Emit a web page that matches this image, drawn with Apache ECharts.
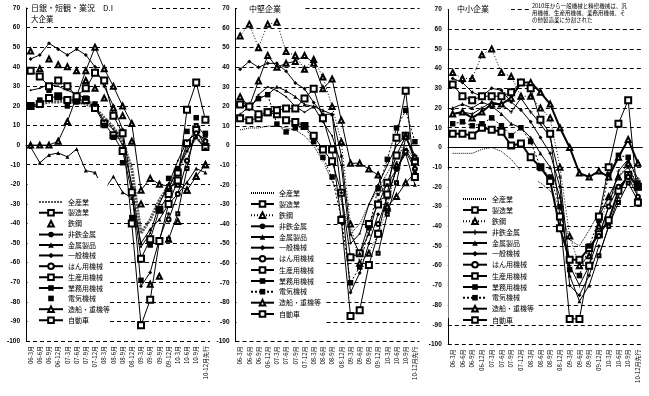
<!DOCTYPE html>
<html>
<head>
<meta charset="utf-8">
<script src="https://cdn.jsdelivr.net/npm/echarts@6/dist/echarts.min.js"></script>
<style>
  html, body { margin: 0; padding: 0; background: #fff; }
  #chart { width: 649px; height: 396px; }
</style>
</head>
<body>
<div id="chart"></div>
<script>
// ---------------------------------------------------
// Data (日銀短観 業況判断DI)
// ---------------------------------------------------
const categories = ["06-3月", "06-6月", "06-9月", "06-12月", "07-3月", "07-6月", "07-9月", "07-12月",
  "08-3月", "08-6月", "08-9月", "08-12月", "09-3月", "09-6月", "09-9月", "09-12月",
  "10-3月", "10-6月", "10-9月", "10-12月先行"];

const seriesNames = ["全産業", "製造業", "鉄鋼", "非鉄金属", "金属製品", "一般機械", "はん用機械",
  "生産用機械", "業務用機械", "電気機械", "造船・重機等", "自動車"];

const yTicks = { min: -100, max: 70, interval: 10 };

const N = null;

// 大企業
const largeAll        = [20, 21, 22, 22, 23, 22, 21, 19, 14, 9, 2, -12, -45, -38, -28, -21, -13, -2, 4, -1];
const largeMfg        = [20, 21, 24, 25, 23, 23, 23, 19, 11, 5, -3, -24, -58, -48, -33, -25, -14, 1, 8, -1];
const largeSteel      = [48, 39, 44, 41, 40, 38, 33, 29, 24, 19, 15, 2, -30, -71, -67, -48, -39, -23, -16, -10];
const largeNonferrous = [28, 29, 31, 30, 28, 26, 24, 20, 12, 8, 0, -20, -52, -45, -30, -20, -8, 2, 6, 3];
const largeMetalProd  = [-1, -9, -5, -4, -6, -2, -13, -14, -23, -16, -24, -27, -50, -43, -38, -30, -25, -19, -12, -14];
const largeGenMach    = [44, 46, 52, 49, 46, 49, 46, 40, 30, 20, 8, -22, -72, -65, -48, -35, N, N, N, N];
const largeGpMach     = [N, N, N, N, N, N, N, N, N, N, N, N, N, N, N, -38, -25, -8, 6, 2];
const largeProdMach   = [N, N, N, N, N, N, N, N, N, N, N, N, N, N, N, -48, -35, -12, 10, 5];
const largeBizMach    = [N, N, N, N, N, N, N, N, N, N, N, N, N, N, N, -22, -12, -3, 4, -2];
const largeElec       = [20, 23, 28, 25, 20, 22, 24, 21, 10, 4, -9, -37, -69, -51, -33, -17, -12, 7, 14, 6];
const largeShip       = [0, 0, 0, 2, 12, 25, 38, 50, 39, 30, 20, 11, -23, -17, -20, -21, -20, -23, -16, -10];
const largeAuto       = [38, 35, 30, 33, 30, 25, 29, 37, 33, 15, 6, -40, -92, -79, -49, -30, -18, 18, 32, 13];

// 中堅企業
const midAll        = [8, 9, 9, 10, 10, 9, 8, 5, 0, -8, -18, -28, -45, -40, -30, -22, -14, -6, 0, -8];
const midMfg        = [14, 13, 14, 17, 16, 13, 12, 10, 5, -2, -8, -24, -57, -55, -40, -30, -19, -5, 5, -8];
const midSteel      = [56, 62, 50, 62, 63, 48, 46, 39, 44, 35, 20, 2, -40, -60, -55, -45, -32, -10, 5, -6];
const midNonferrous = [25, 18, 26, 30, 28, 25, 20, 17, 20, 12, 5, -10, -50, -45, -30, -20, -10, 0, 5, -5];
const midMetalProd  = [16, 20, 24, 26, 30, 28, 25, 21, 20, 18, 16, -5, -45, -55, -45, -28, -26, -12, -4, -20];
const midGenMach    = [39, 43, 40, 42, 42, 38, 32, 29, 22, 16, 16, -24, -75, -65, -50, -35, N, N, N, N];
const midGpMach     = [N, N, N, N, N, N, N, N, N, N, N, N, N, N, N, -40, -26, -12, -3, -12];
const midProdMach   = [N, N, N, N, N, N, N, N, N, N, N, N, N, N, N, -55, -35, -19, 4, -6];
const midBizMach    = [N, N, N, N, N, N, N, N, N, N, N, N, N, N, N, -25, -20, -12, -2, -10];
const midElec       = [21, 20, 24, 26, 11, 7, 9, 10, 2, -6, -16, -37, -70, -62, -42, -22, -7, 9, 18, 2];
const midShip       = [25, 20, 33, 46, 40, 42, 43, 46, 42, 29, 34, 13, -9, -9, -12, -15, -31, -26, -19, -14];
const midAuto       = [21, 20, 16, 17, 18, 19, 19, 24, 29, 14, -2, -38, -87, -84, -61, -45, -25, 4, 28, -16];

// 中小企業
const smallAll        = [-3, -3, -3, -1, 0, -2, -6, -12, -15, -18, -22, -30, -47, -50, -42, -33, -26, -20, -15, -22];
const smallMfg        = [7, 7, 6, 10, 9, 8, 1, 2, -5, -10, -17, -41, -57, -57, -51, -44, -37, -22, -14, -20];
const smallSteel      = [38, 35, 35, 47, 50, 38, 36, 26, 26, 20, 15, -10, -45, -60, -55, -40, -25, -15, -8, -20];
const smallNonferrous = [17, 18, 17, 20, 23, 22, 18, 25, 18, 12, 5, -15, -60, -70, -60, -45, -30, -12, -6, -16];
const smallMetalProd  = [20, 22, 20, 23, 21, 17, 12, 10, 5, -3, -10, -25, -65, -78, -70, -55, -40, -25, -13, -20];
const smallGenMach    = [35, 33, 28, 26, 30, 29, 23, 19, 13, 5, -3, -20, -70, -75, -65, -50, N, N, N, N];
const smallGpMach     = [N, N, N, N, N, N, N, N, N, N, N, N, N, N, N, -45, -30, -20, -15, -25];
const smallProdMach   = [N, N, N, N, N, N, N, N, N, N, N, N, N, N, N, -55, -40, -28, -18, -27];
const smallBizMach    = [N, N, N, N, N, N, N, N, N, N, N, N, N, N, N, -35, -25, -15, -10, -20];
const smallElec       = [12, 13, 11, 12, 15, 11, 6, 10, 3, -10, -15, -30, -62, -65, -50, -37, -14, -4, -5, -18];
const smallShip       = [17, 18, 15, 18, 22, 22, 25, 33, 33, 28, 22, 10, 0, -13, -15, -12, -15, -5, 4, -8];
const smallAuto       = [32, 26, 24, 26, 26, 26, 28, 33, 30, 14, 7, -35, -87, -87, -60, -35, -10, 12, 24, -28];

const panelData = [
  [largeAll, largeMfg, largeSteel, largeNonferrous, largeMetalProd, largeGenMach, largeGpMach,
    largeProdMach, largeBizMach, largeElec, largeShip, largeAuto],
  [midAll, midMfg, midSteel, midNonferrous, midMetalProd, midGenMach, midGpMach,
    midProdMach, midBizMach, midElec, midShip, midAuto],
  [smallAll, smallMfg, smallSteel, smallNonferrous, smallMetalProd, smallGenMach, smallGpMach,
    smallProdMach, smallBizMach, smallElec, smallShip, smallAuto]
];

// ---------------------------------------------------
// Layout / styles
// ---------------------------------------------------
const FONT = "'Noto Sans CJK JP', 'Liberation Sans', sans-serif";
const CROSS = "path://M4,0H6V4H10V6H6V10H4V6H0V4H4Z";

const grids = [
  { left: 26, top: 8, width: 184, height: 333 },
  { left: 235.5, top: 8.5, width: 184, height: 333 },
  { left: 447.8, top: 9.5, width: 195, height: 335 }
];

const legendPos = [
  { left: 38, top: 198.5, itemWidth: 24, itemGap: 3.45 },
  { left: 250, top: 189.5, itemWidth: 23, itemGap: 3.7 },
  { left: 462, top: 195.5, itemWidth: 24, itemGap: 3.7 }
];

// white boxes behind the legends (they hide the grid lines like in the original)
const legendBoxes = [
  { x: 27.5, y: 178, width: 80, height: 147 },
  { x: 236.5, y: 162, width: 88, height: 163 },
  { x: 448.5, y: 170, width: 89, height: 148 }
];

function styleFor(panel, i) {
  const base = [
    { symbol: "none", size: 0, width: panel === 0 ? 3 : 1, type: panel === 0 ? [2, 1] : [1, 1],
      color: panel === 0 ? "#555" : "#000" },
    { symbol: "emptyRect", size: 6, width: panel === 2 ? 2 : 1 },
    { symbol: "emptyTriangle", size: 5, width: panel === 0 ? 0 : 1, type: [1, 2] },
    { symbol: panel === 2 ? CROSS : "circle", size: panel === 2 ? 4 : 2, width: 1 },
    { symbol: "triangle", size: 4, width: 1 },
    { symbol: "diamond", size: 4, width: 1 },
    { symbol: "emptyCircle", size: 4, width: 1 },
    { symbol: "emptyRect", size: 3, width: 1 },
    { symbol: "rect", size: 3, width: 1 },
    { symbol: "rect", size: 5.5, width: panel === 0 ? 0 : 1, type: [2, 2] },
    { symbol: "emptyTriangle", size: 5, width: panel === 2 ? 2 : 1 },
    { symbol: "emptyRect", size: 6, width: 1 }
  ];
  return base[i];
}

// names get invisible suffixes so each panel keeps its own legend icons
const nameOf = (p, i) => seriesNames[i] + "\u200b".repeat(p);

const series = [];
const legends = [];
const xAxes = [];
const yAxes = [];

panelData.forEach((rows, p) => {
  xAxes.push({
    type: "category",
    gridIndex: p,
    data: categories,
    boundaryGap: true,
    axisLine: { show: p === 0, lineStyle: { color: "#000", width: 1 } },
    axisTick: { show: false },
    axisLabel: {
      rotate: 90, interval: 0, margin: 5,
      fontSize: 6, color: "#000", fontFamily: FONT
    },
    splitLine: { show: false }
  });

  yAxes.push({
    type: "value",
    gridIndex: p,
    min: yTicks.min, max: yTicks.max, interval: yTicks.interval,
    axisLine: { show: true, lineStyle: { color: "#000", width: 1 } },
    axisTick: { show: false },
    axisLabel: {
      margin: 6, fontSize: 6.5, fontWeight: "bold", color: "#000",
      fontFamily: "'Liberation Sans', sans-serif"
    },
    splitLine: { show: true, lineStyle: { color: "#000", width: 1, type: [4, 3] } }
  });

  rows.forEach((values, i) => {
    const st = styleFor(p, i);
    const s = {
      name: nameOf(p, i),
      type: "line",
      xAxisIndex: p,
      yAxisIndex: p,
      data: values,
      symbol: st.symbol,
      symbolSize: st.size,
      showSymbol: st.symbol !== "none",
      lineStyle: { color: st.color || "#000", width: st.width, type: st.type || "solid" },
      itemStyle: { color: "#000", borderColor: "#000", borderWidth: st.symbol.indexOf("empty") === 0 ? 1 : 0 },
      emphasis: { disabled: true },
      z: 2 + (i === 0 ? 0 : 1)
    };
    if (i === 0) {
      // solid zero line
      s.markLine = {
        silent: true,
        symbol: "none",
        label: { show: false },
        lineStyle: { color: "#000", width: 1, type: "solid" },
        data: [{ yAxis: 0 }]
      };
    }
    series.push(s);
  });

  const lp = legendPos[p];
  legends.push({
    data: seriesNames.map((n, i) => {
      const item = { name: nameOf(p, i) };
      if (i === 0) item.itemStyle = { opacity: 0 };   // 全産業: line only
      return item;
    }),
    orient: "vertical",
    left: lp.left,
    top: lp.top,
    padding: 0,
    itemWidth: lp.itemWidth,
    itemHeight: 7,
    itemGap: lp.itemGap,
    selectedMode: false,
    z: 120,
    formatter: n => n.replace(/\u200b/g, ""),
    textStyle: { fontSize: 7, lineHeight: 7, color: "#000", fontFamily: FONT }
  });
});

const chart = echarts.init(document.getElementById("chart"), null, { renderer: "canvas" });

chart.setOption({
  animation: false,
  backgroundColor: "#fff",
  textStyle: { fontFamily: FONT },
  grid: grids,
  xAxis: xAxes,
  yAxis: yAxes,
  legend: legends,
  title: [
    {
      text: "日銀・短観・業況　D.I", left: 28, top: 3,
      padding: [1, 36, 1, 3], backgroundColor: "#fff",
      textStyle: { fontSize: 8, fontWeight: "normal", color: "#000", fontFamily: FONT }
    },
    {
      text: "大企業", left: 30, top: 15, padding: [0, 2, 0, 1],
      textStyle: { fontSize: 7.5, fontWeight: "normal", color: "#000", fontFamily: FONT }
    },
    {
      text: "中堅企業", left: 237, top: 3,
      padding: [2, 24, 2, 12], backgroundColor: "#fff",
      textStyle: { fontSize: 8, fontWeight: "normal", color: "#000", fontFamily: FONT }
    },
    {
      text: "中小企業", left: 449, top: 3,
      padding: [2, 22, 2, 8], backgroundColor: "#fff",
      textStyle: { fontSize: 8, fontWeight: "normal", color: "#000", fontFamily: FONT }
    },
    {
      text: "2010年から一般機械と精密機械は、汎\n用機械、生産用機械、業務用機械、そ\nの他製造業に分割された",
      left: 529, top: 2,
      padding: [1, 20, 1, 3], backgroundColor: "#fff",
      textStyle: { fontSize: 5.5, lineHeight: 6.7, fontWeight: "normal", color: "#000", fontFamily: FONT }
    }
  ],
  graphic: legendBoxes.map(b => ({
    type: "rect",
    z: 100,
    silent: true,
    shape: { x: b.x, y: b.y, width: b.width, height: b.height },
    style: { fill: "#fff" }
  })),
  series: series
});
</script>
</body>
</html>
